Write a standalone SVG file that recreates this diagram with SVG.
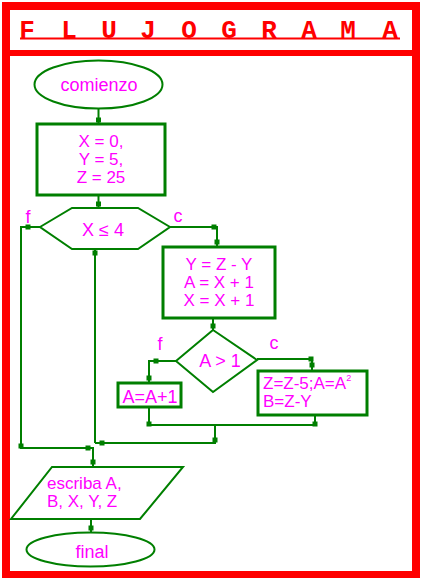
<svg xmlns="http://www.w3.org/2000/svg" width="428" height="578" viewBox="0 0 428 578">
<style>
.nd{fill:none;stroke:#007f00;stroke-width:3}
.el{fill:none;stroke:#007f00;stroke-width:2}
.ln{fill:none;stroke:#007f00;stroke-width:2}
.t{fill:#ff00ff;font-family:"Liberation Sans",Arial,sans-serif;font-size:18px}
.m{font-size:17px}
.dot{fill:#007f00}
</style>
<defs><rect id="d" x="-2.5" y="-2.5" width="5" height="5" class="dot"/></defs>
<g id="frame">
<rect x="2" y="2" width="418" height="576" fill="#ff0000"/>
<rect x="10" y="10" width="402" height="40" fill="#fff"/>
<rect x="10" y="56" width="402" height="515" fill="#fff"/>
<text x="27 69 109 148 189 229 269 309 348 390" y="38" text-anchor="middle" fill="#ff0000" font-family="'Liberation Mono','Courier New',monospace" font-weight="bold" font-size="26">FLUJOGRAMA</text>
<rect x="20" y="37.5" width="380" height="2" fill="#ff0000"/>
</g>
<g id="connectors">
<path class="ln" d="M98.5 109V124"/>
<path class="ln" d="M98.5 195V208"/>
<path class="ln" d="M40 227H21V448H93V467"/>
<path class="ln" d="M170 227H217V247"/>
<path class="ln" d="M95 249V443"/>
<path class="ln" d="M213 318V330"/>
<path class="ln" d="M176 361H149V383"/>
<path class="ln" d="M257 359H312V371"/>
<path class="ln" d="M149 407V425H315V415"/>
<path class="ln" d="M215 425V443H95"/>
<path class="ln" d="M91 519V532"/>
<use href="#d" x="98.5" y="120"/>
<use href="#d" x="98.5" y="204"/>
<use href="#d" x="28" y="227"/>
<use href="#d" x="95" y="253"/>
<use href="#d" x="214" y="227"/>
<use href="#d" x="217" y="242"/>
<use href="#d" x="213" y="326"/>
<use href="#d" x="156" y="361"/>
<use href="#d" x="149" y="378"/>
<use href="#d" x="311" y="359"/>
<use href="#d" x="312" y="365"/>
<use href="#d" x="149" y="424"/>
<use href="#d" x="315" y="424"/>
<use href="#d" x="215" y="440"/>
<use href="#d" x="102" y="443"/>
<use href="#d" x="21" y="446"/>
<use href="#d" x="88" y="448"/>
<use href="#d" x="93" y="462"/>
<use href="#d" x="91" y="528"/>
<text class="t" x="28" y="223" text-anchor="middle" font-size="16">f</text>
<text class="t" x="178" y="222" text-anchor="middle" font-size="16">c</text>
<text class="t" x="160" y="350" text-anchor="middle" font-size="16">f</text>
<text class="t" x="274" y="349" text-anchor="middle" font-size="16">c</text>
</g>
<g id="start">
<ellipse class="el" cx="98.5" cy="84.5" rx="64" ry="24"/>
<text class="t" x="99" y="91" text-anchor="middle">comienzo</text>
</g>
<g id="init">
<rect class="nd" x="37" y="124" width="128" height="71"/>
<text class="t m" x="101" y="147" text-anchor="middle">X = 0,</text>
<text class="t m" x="101" y="165" text-anchor="middle">Y = 5,</text>
<text class="t m" x="101" y="183" text-anchor="middle">Z = 25</text>
</g>
<g id="cond1">
<polygon class="el" points="40,227 72,208 138,208 170,227 138,249 72,249"/>
<text class="t" x="103" y="236" text-anchor="middle" font-size="17">X ≤ 4</text>
</g>
<g id="body">
<rect class="nd" x="163" y="247" width="112" height="71"/>
<text class="t m" x="219" y="270" text-anchor="middle">Y = Z - Y</text>
<text class="t m" x="219" y="288" text-anchor="middle">A = X + 1</text>
<text class="t m" x="219" y="306" text-anchor="middle">X = X + 1</text>
</g>
<g id="cond2">
<polygon class="el" points="213,330 257,360 213,392 176,361"/>
<text class="t" x="220" y="367" text-anchor="middle" font-size="16">A &gt; 1</text>
</g>
<g id="incA">
<rect class="nd" x="118" y="383" width="63" height="24"/>
<text class="t" x="150" y="403" text-anchor="middle">A=A+1</text>
</g>
<g id="calc">
<rect class="nd" x="258" y="371" width="109" height="44"/>
<text class="t m" x="263" y="389">Z=Z-5;A=A<tspan font-size="9" dy="-8">2</tspan></text>
<text class="t m" x="263" y="407">B=Z-Y</text>
</g>
<g id="output">
<polygon class="el" points="52,467 183,467 140,519 11,519"/>
<text class="t m" x="47" y="489">escriba A,</text>
<text class="t m" x="47" y="507">B, X, Y, Z</text>
</g>
<g id="end">
<ellipse class="el" cx="90.5" cy="549.5" rx="64" ry="17"/>
<text class="t" x="92" y="558" text-anchor="middle">final</text>
</g>
</svg>
